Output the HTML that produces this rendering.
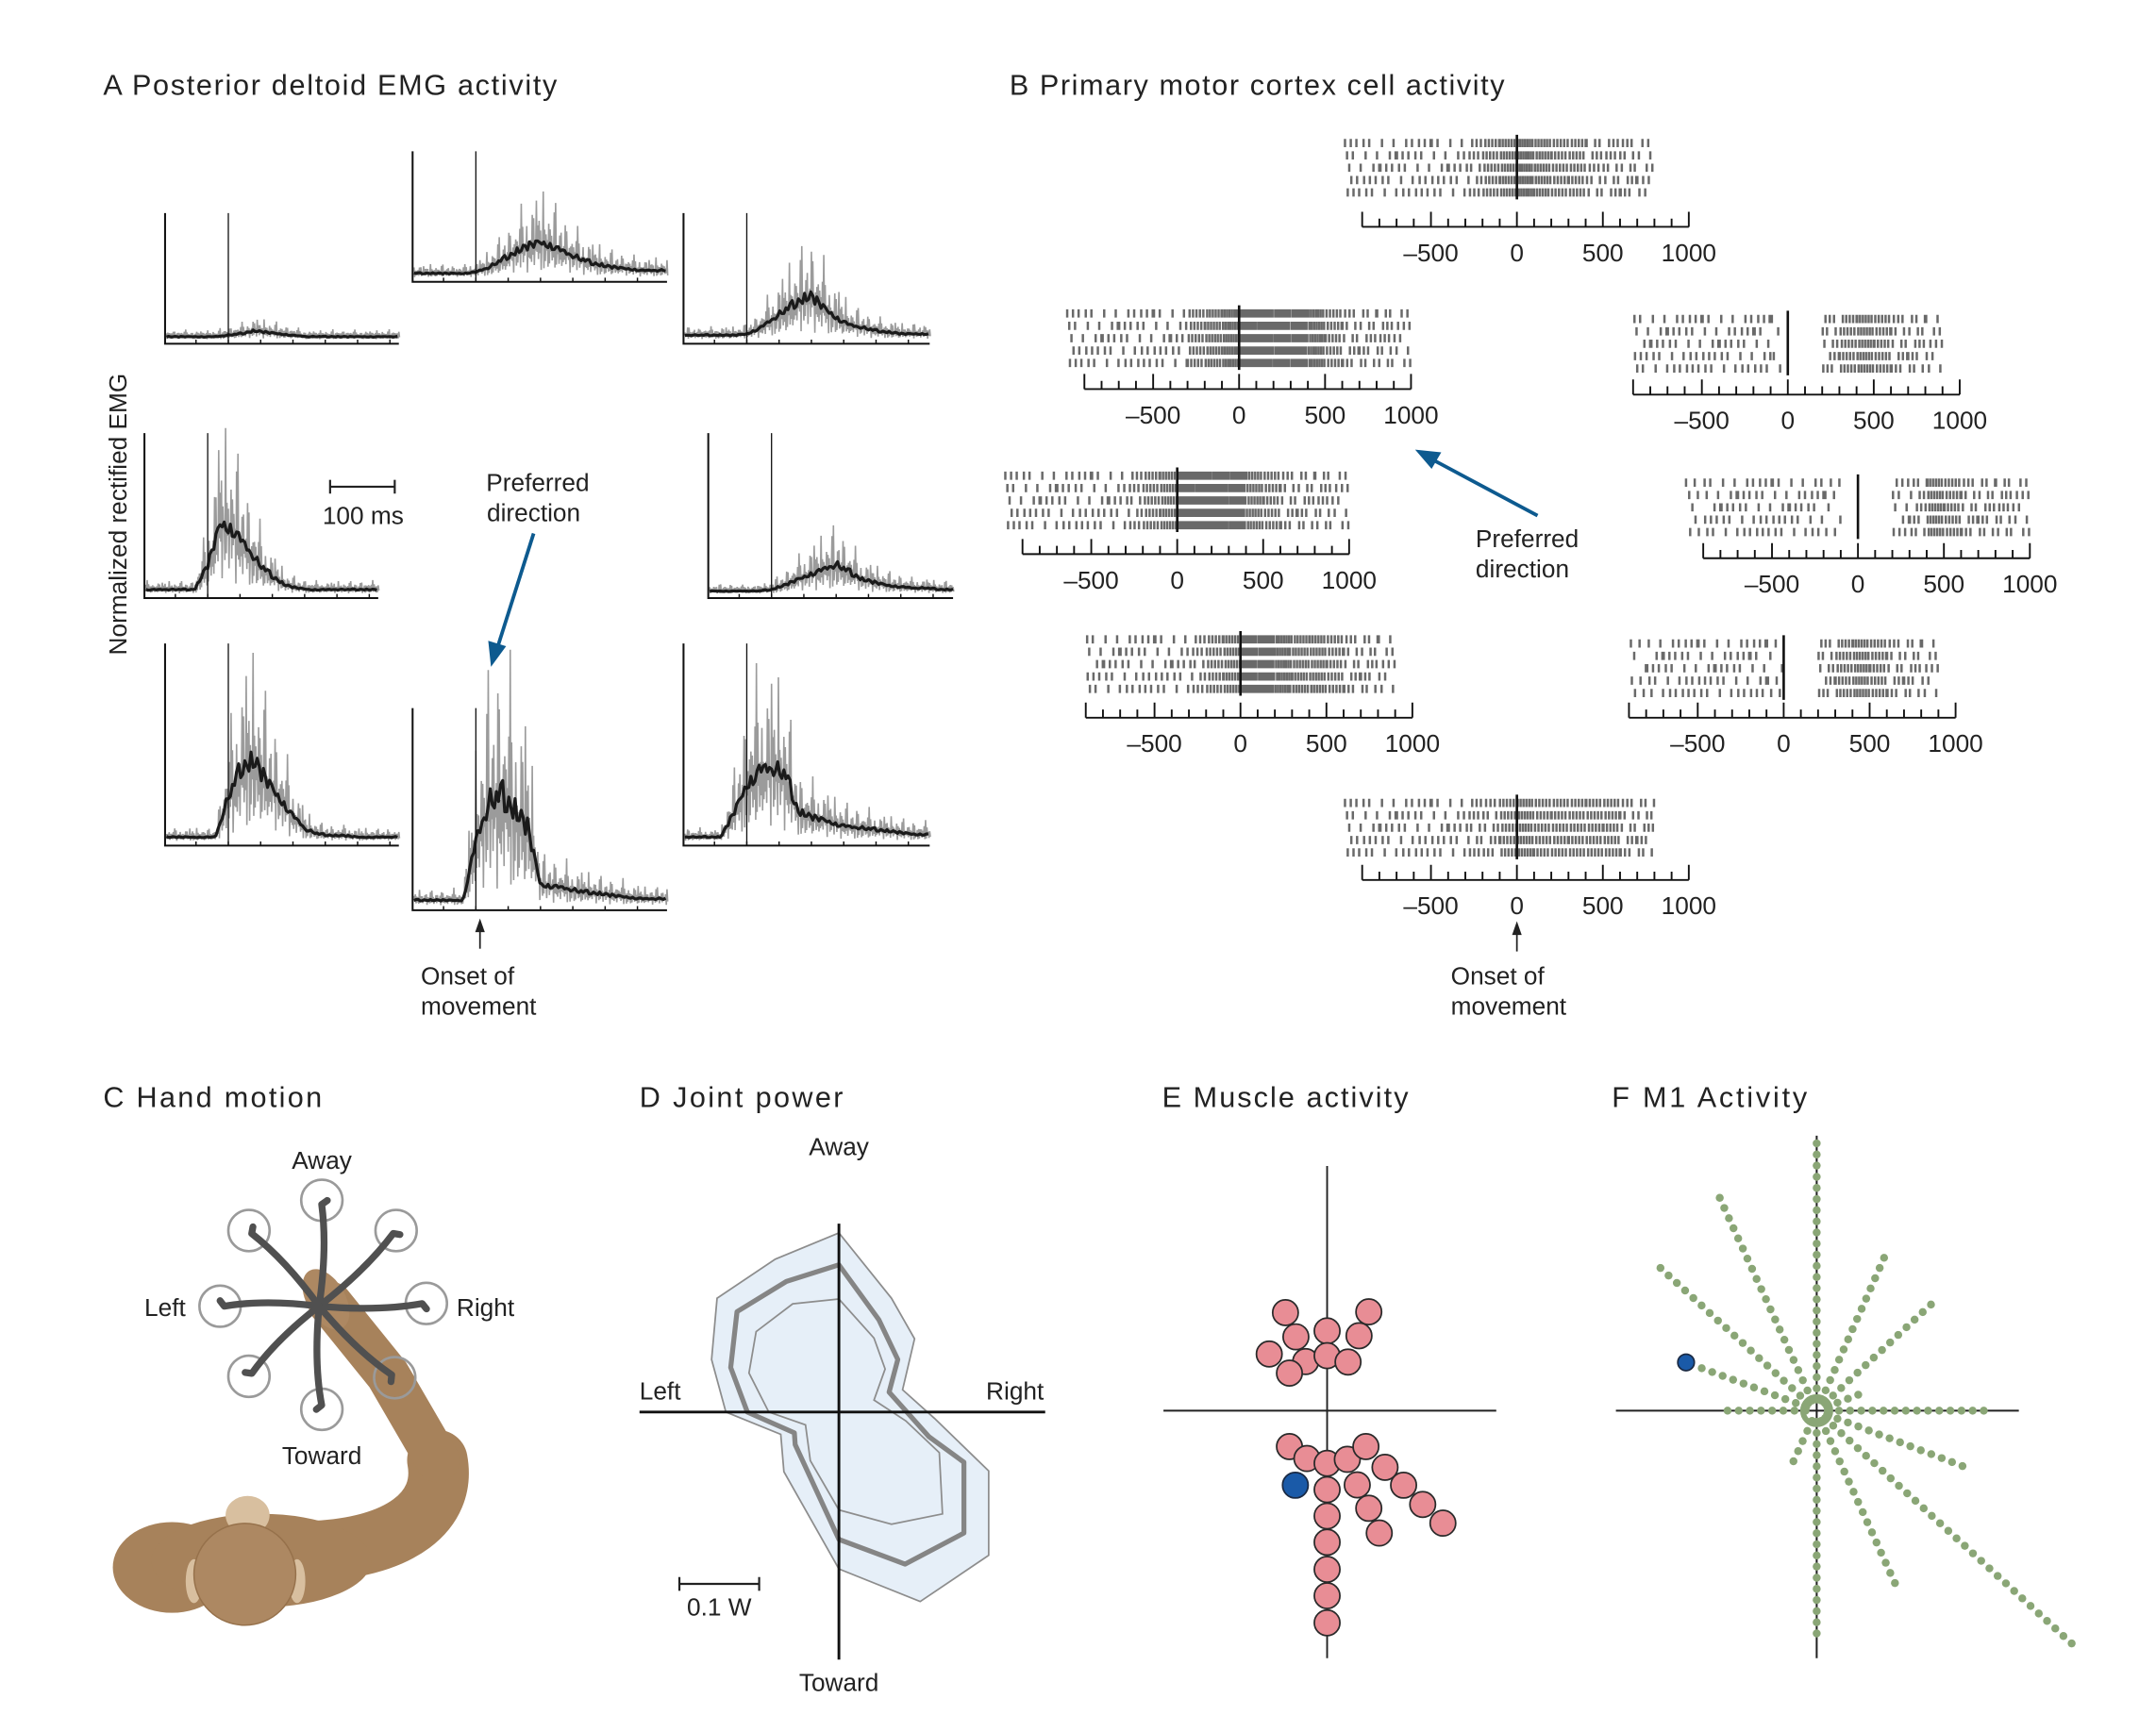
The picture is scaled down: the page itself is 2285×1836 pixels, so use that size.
<!DOCTYPE html>
<html><head><meta charset="utf-8"><title>Directional tuning figure</title>
<style>
html,body{margin:0;padding:0;background:#fff;}
svg{display:block;}
text{font-family:"Liberation Sans",sans-serif;fill:#222;}
</style></head>
<body>
<svg id="fig" xmlns="http://www.w3.org/2000/svg" width="2285" height="1836" viewBox="0 0 1567.7 1259.7">
<rect x="0" y="0" width="1568" height="1260" fill="#fff"/>
<!-- Titles -->
<text x="75" y="69" font-size="21" textLength="330">A  Posterior deltoid EMG activity</text>
<text x="734" y="69" font-size="21" textLength="360">B  Primary motor cortex cell activity</text>
<text x="75" y="805" font-size="21" textLength="159">C  Hand motion</text>
<text x="465" y="805" font-size="21" textLength="148">D  Joint power</text>
<text x="845" y="805" font-size="21" textLength="179">E  Muscle activity</text>
<text x="1172" y="805" font-size="21" textLength="142">F  M1 Activity</text>

<!-- Panel A annotations -->
<text transform="translate(92,374) rotate(-90)" text-anchor="middle" font-size="18">Normalized rectified EMG</text>
<g stroke="#222" stroke-width="1.5">
<line x1="240" y1="354" x2="287" y2="354"/><line x1="240" y1="349" x2="240" y2="359"/><line x1="287" y1="349" x2="287" y2="359"/></g>
<text x="264" y="381" text-anchor="middle" font-size="18">100 ms</text>
<text x="391" y="357" text-anchor="middle" font-size="18">Preferred</text>
<text x="388" y="379" text-anchor="middle" font-size="18">direction</text>
<g>
<line x1="388" y1="388" x2="362" y2="470" stroke="#0d5a8f" stroke-width="2.6"/>
<polygon points="357,485 355,466 368,470" fill="#0d5a8f"/></g>
<g>
<line x1="349" y1="690" x2="349" y2="676" stroke="#222" stroke-width="1.2"/><polygon points="349,668 345.5,678 352.5,678" fill="#222"/></g>
<text x="306" y="716" font-size="18">Onset of</text>
<text x="306" y="738" font-size="18">movement</text>

<!-- Panel B annotations -->
<text x="1073" y="398" font-size="18">Preferred</text>
<text x="1073" y="420" font-size="18">direction</text>
<g>
<line x1="1118" y1="375" x2="1043" y2="335" stroke="#0d5a8f" stroke-width="2.6"/>
<polygon points="1029,327 1048,329 1041,341" fill="#0d5a8f"/></g>
<g>
<line x1="1103" y1="692" x2="1103" y2="678" stroke="#222" stroke-width="1.2"/><polygon points="1103,670 1099.5,680 1106.5,680" fill="#222"/></g>
<text x="1055" y="716" font-size="18">Onset of</text>
<text x="1055" y="738" font-size="18">movement</text>

<g id="emg"></g>
<g id="raster"></g>

<!-- Panel C: monkey -->
<g>
<path d="M230 1128 C 290 1125, 325 1100, 318 1062" fill="none" stroke="#a7825b" stroke-width="44" stroke-linecap="round"/>
<path d="M318 1062 L 282 1000 L 240 948" fill="none" stroke="#a7825b" stroke-width="32" stroke-linecap="round"/>
<ellipse cx="237" cy="945" rx="14" ry="24" transform="rotate(-30 237 945)" fill="#ad8862"/>
<ellipse cx="125" cy="1140" rx="43" ry="33" fill="#a7825b"/>
<ellipse cx="190" cy="1135" rx="80" ry="34" fill="#a7825b"/>
<ellipse cx="180" cy="1102" rx="16" ry="14" fill="#d8bf9f"/>
<ellipse cx="141" cy="1150" rx="6" ry="16" fill="#d8bf9f"/>
<ellipse cx="216" cy="1150" rx="6" ry="16" fill="#d8bf9f"/>
<circle cx="178" cy="1145" r="37" fill="#ad8862" stroke="#96714b" stroke-width="1"/>
</g>
<g id="hand"></g>
<text x="234" y="850" text-anchor="middle" font-size="18">Away</text>
<text x="135" y="957" text-anchor="end" font-size="18">Left</text>
<text x="332" y="957" font-size="18">Right</text>
<text x="234" y="1065" text-anchor="middle" font-size="18">Toward</text>

<g id="power"></g>
<text x="610" y="840" text-anchor="middle" font-size="18">Away</text>
<text x="465" y="1018" font-size="18">Left</text>
<text x="759" y="1018" text-anchor="end" font-size="18">Right</text>
<text x="610" y="1230" text-anchor="middle" font-size="18">Toward</text>
<g stroke="#222" stroke-width="1.5">
<line x1="494" y1="1152" x2="552" y2="1152"/><line x1="494" y1="1147" x2="494" y2="1157"/><line x1="552" y1="1147" x2="552" y2="1157"/></g>
<text x="523" y="1175" text-anchor="middle" font-size="18">0.1 W</text>

<g id="muscle"></g>
<g id="m1"></g>
</svg>

<script>
// ---------- Panel A data: mean EMG envelopes (normalized units), t = -100..280 ms step 20 ----------
const emgTimes = [-100,-80,-60,-40,-20,0,20,40,60,80,100,120,140,160,180,200,220,240,260,280];
const emgUpLeft    = [.02,.02,.02,.02,.02,.03,.04,.06,.05,.04,.03,.02,.02,.02,.02,.02,.02,.02,.02,.02];
const emgUp        = [.03,.03,.03,.03,.03,.04,.07,.12,.17,.22,.25,.22,.17,.13,.10,.08,.07,.06,.05,.05];
const emgUpRight   = [.03,.03,.03,.03,.03,.04,.08,.14,.20,.26,.30,.22,.15,.10,.08,.06,.05,.04,.04,.04];
const emgLeft      = [.03,.03,.03,.03,.03,.20,.50,.45,.32,.20,.12,.06,.04,.03,.03,.03,.03,.03,.03,.03];
const emgRight     = [.02,.02,.02,.02,.02,.03,.06,.10,.14,.17,.20,.15,.10,.08,.06,.05,.04,.04,.03,.03];
const emgDownLeft  = [.03,.03,.03,.03,.03,.30,.50,.55,.42,.30,.18,.08,.05,.04,.04,.03,.03,.03,.03,.03];
const emgDown      = [.04,.04,.04,.04,.04,.45,.70,.75,.65,.55,.15,.14,.12,.10,.09,.08,.07,.06,.05,.05];
const emgDownRight = [.03,.03,.03,.03,.20,.40,.50,.50,.45,.20,.17,.15,.12,.10,.09,.08,.07,.06,.05,.05];
const emgNoise = [0.3,1.1,0.5,0.9,0.2,1.4,0.6,0.8,0.1,1.0,0.4,1.3,0.7,0.2,0.9,0.5,1.5,0.3,0.8,0.6,1.2,0.2,0.7,1.0,0.4,0.9,0.3,1.4,0.5,0.8,0.1,1.1,0.6,0.9,0.3,1.2,0.7,0.4,1.0,0.2,0.8];
const emgNames = ['up-left','up','up-right','left','right','down-left','down','down-right'];

// ---------- Panel B data: firing rate (spikes per 100 ms bin), bins from -1000 to +1000 ms ----------
const rasterUp        = [3,3,3,3,3,3,3,4,5,6,7,6,5,5,4,4,4,3,0,0];
const rasterUpLeft    = [3,3,3,3,3,3,3,5,6,7,9,9,8,8,7,5,4,4,4,3];
const rasterUpRight   = [0,3,3,3,3,3,3,3,3,1,0,0,4,5,6,5,4,4,3,0];
const rasterLeft      = [3,3,3,3,3,3,3,4,5,6,9,9,9,8,6,5,4,4,4,3];
const rasterRight     = [2,3,3,3,3,3,3,3,2,0,0,0,3,4,6,5,4,4,4,3];
const rasterDownLeft  = [0,3,3,3,3,3,3,4,5,6,8,8,7,6,6,5,4,4,3,0];
const rasterDownRight = [0,2,3,3,3,3,3,3,3,2,0,0,4,5,6,5,4,4,3,0];
const rasterDown      = [3,3,3,3,3,3,3,4,4,5,6,5,5,5,5,5,4,4,0,0];
const rasterTickLabels = [-500,0,500,1000];

// ---------- Panel D data: joint power polygons (units of 0.01 W; x right+, y toward+) ----------
const powerOuterX = [0,-8.0,-15.3,-16.0,-14.2,-7.3,-6.9,0,10.2,18.8,18.8,12.0,8.0,9.5,6.6];
const powerOuterY = [-22.5,-19.2,-14.3,-6.6,0,2.8,7.5,19.7,23.8,18.0,7.4,0.8,-2.8,-9.2,-14.3];
const powerMeanX  = [0,-6.6,-12.8,-13.6,-11.5,-5.6,-5.5,0,8.3,15.7,15.7,11.3,6.3,7.4,5.0];
const powerMeanY  = [-18.5,-16.4,-12.6,-5.6,0,2.6,4.1,16.0,19.1,15.2,6.3,3.1,-2.5,-6.6,-11.6];
const powerInnerX = [0,-5.8,-10.4,-11.3,-8.8,-4.2,-3.6,0,6.6,13.0,12.6,8.4,4.4,5.8,4.4];
const powerInnerY = [-14.2,-13.6,-10.1,-4.9,0,1.6,6.1,12.3,14.1,12.8,5.1,1.1,-1.5,-5.4,-9.3];

// ---------- Panel E data: muscle preferred directions (x right+, y toward+) ----------
const muscleX = [-3.03,3.03,-2.27,0,2.32,-4.21,-1.56,0,1.52,-2.74,-2.74,-1.47,0,1.47,2.82,4.21,2.19,5.56,0,3.03,6.95,8.42,3.79,0,0,0,0,0];
const muscleY = [-7.13,-7.19,-5.37,-5.8,-5.45,-4.12,-3.57,-4.0,-3.54,-2.73,2.61,3.48,3.83,3.54,2.61,4.12,5.40,5.42,5.74,7.10,6.82,8.18,8.90,7.66,9.57,11.54,13.46,15.43];
const muscleHighlightX = [-2.31];
const muscleHighlightY = [5.42];

// ---------- Panel F data: M1 population vectors (angle deg, number of cells) ----------
const m1Angles = [90,114.5,137.6,159.7,180,66.2,42.9,21,0,-20.8,-42.4,-65.6,-90,-114.7];
const m1Counts = [24,21,19,11,8,15,14,4,15,14,31,17,20,5];
const m1HighlightAngle = [159.7];
const m1HighlightCount = [12.5];

const NS = 'http://www.w3.org/2000/svg';
function mk(tag, attrs, parent){
  const e = document.createElementNS(NS, tag);
  for (const k in attrs) e.setAttribute(k, attrs[k]);
  parent.appendChild(e);
  return e;
}

// ================= Panel A =================
(function(){
  const g = document.getElementById('emg');
  const series = [emgUpLeft, emgUp, emgUpRight, emgLeft, emgRight, emgDownLeft, emgDown, emgDownRight];
  const layout = [
    {x0:120,base:250,top:155,w:170},{x0:300,base:205,top:110,w:185},{x0:497,base:250,top:155,w:179},
    {x0:105,base:435,top:315,w:170},{x0:515,base:435,top:315,w:178},
    {x0:120,base:615,top:468,w:170},{x0:300,base:662,top:515,w:185},{x0:497,base:615,top:468,w:179}];
  const pxPerMs = 0.47, unitPx = 100;
  function interp(arr, t){
    const i = (t - emgTimes[0]) / 20;
    if (i <= 0) return arr[0];
    if (i >= arr.length-1) return arr[arr.length-1];
    const f = Math.floor(i), r = i - f;
    return arr[f]*(1-r) + arr[f+1]*r;
  }
  series.forEach((arr, k) => {
    const L = layout[k];
    const onX = L.x0 + 46;
    const sub = mk('g', {}, g);
    
    
    const xs = t => onX + t*pxPerMs;
    const ys = v => L.base - 3 - v*unitPx;
    let d = '';
    for (let x = L.x0 + 1, i = 0; x <= L.x0 + L.w; x += 1, i++) {
      const t = (x - onX)/pxPerMs;
      const m = interp(arr, t);
      const n = emgNoise[(i*7 + k*3) % emgNoise.length];
      const n2 = emgNoise[(i*3 + k*5 + 11) % emgNoise.length];
      const top = m*(1 + 0.75*n*n) + 0.012 + 0.01*n2;
      const bot = Math.max(0, m*(1 - 0.55*n2));
      d += (i===0 ? 'M' : 'L') + x.toFixed(1) + ' ' + ys(top).toFixed(1) + 'L' + (x+0.5).toFixed(1) + ' ' + ys(bot).toFixed(1);
    }
    const band = mk('path', {d:d, fill:'none', stroke:'#9b9b9b', 'stroke-width':'1.1'}, sub);
    
    
    let dm = '';
    for (let x = L.x0 + 1, i = 0; x <= L.x0 + L.w; x += 1.5, i++) {
      const t = (x - onX)/pxPerMs;
      const m = interp(arr, t);
      const n = emgNoise[(i*5 + k) % emgNoise.length];
      const v = m*(0.9 + 0.22*n);
      dm += (i===0 ? 'M' : 'L') + x.toFixed(1) + ' ' + ys(v).toFixed(1);
    }
    const mean = mk('path', {d:dm, fill:'none', stroke:'#1a1a1a', 'stroke-width':'2.2', 'stroke-linejoin':'round'}, sub);
    
    
    const ax = mk('path', {d:'M'+L.x0+' '+L.top+'V'+L.base+'H'+(L.x0+L.w), fill:'none', stroke:'#111', 'stroke-width':'1.4'}, sub);
    
    
    const on = mk('line', {x1:onX, y1:L.top, x2:onX, y2:L.base, stroke:'#111', 'stroke-width':'0.9'}, sub);
    
    
    let td = '';
    for (let t = -50; xs(t) <= L.x0 + L.w; t += 50) { if (xs(t) >= L.x0) td += 'M'+xs(t).toFixed(1)+' '+L.base+'v-3'; }
    const ticks = mk('path', {d:td, stroke:'#111', 'stroke-width':'1'}, sub);
    
    
  });
})();

// ================= Panel B =================
(function(){
  const g = document.getElementById('raster');
  const series = [rasterUp, rasterUpLeft, rasterUpRight, rasterLeft, rasterRight, rasterDownLeft, rasterDownRight, rasterDown];
  const names = ['up','up-left','up-right','left','right','down-left','down-right','down'];
  const layout = [
    {zero:1103,rowTop:101,axisY:165},{zero:901,rowTop:225,axisY:283},{zero:1300,rowTop:229,axisY:287},
    {zero:856,rowTop:343,axisY:403},{zero:1351,rowTop:348,axisY:406},
    {zero:902,rowTop:462,axisY:522},{zero:1297,rowTop:465,axisY:522},{zero:1103,rowTop:581,axisY:640}];
  const pxPerMs = 0.125;
  series.forEach((rates, k) => {
    const L = layout[k];
    const xs = t => L.zero + t*pxPerMs;
    const sub = mk('g', {}, g);
    
    
    let d = '';
    for (let r = 0; r < 5; r++) {
      const y = L.rowTop + r*9;
      rates.forEach((n, b) => {
        if (!n) return;
        const b0 = -1000 + b*100;
        const step = 100/n;
        const off = ((r*0.37 + b*0.23) % 1) * step;
        for (let j = 0; j < n; j++) {
          if (n <= 4 && ((j + r + b) % 4 === 3)) continue;
          const t = b0 + off + j*step;
          d += 'M' + xs(t).toFixed(1) + ' ' + y + 'v6';
        }
      });
    }
    const sp = mk('path', {d:d, stroke:'#2a2a2a', 'stroke-width':'1.7', 'stroke-opacity':'0.7'}, sub);
    
    
    const al = mk('line', {x1:xs(0), y1:L.rowTop-3, x2:xs(0), y2:L.rowTop+44, stroke:'#111', 'stroke-width':'1.8'}, sub);
    
    
    let ad = 'M'+xs(-900)+' '+L.axisY+'H'+xs(1000);
    for (let t = -900; t <= 1000; t += 100) {
      const major = (t % 500 === 0) || t === -900;
      ad += 'M'+xs(t).toFixed(1)+' '+L.axisY+'v'+(major ? -11 : -6);
    }
    const axis = mk('path', {d:ad, fill:'none', stroke:'#111', 'stroke-width':'1.3'}, sub);
    
    
    rasterTickLabels.forEach(v => {
      const tx = mk('text', {x:xs(v), y:L.axisY+25, 'text-anchor':'middle', 'font-size':'18'}, sub);
      
      
      tx.textContent = v < 0 ? '\u2013' + Math.abs(v) : String(v);
    });
  });
})();

// ================= Panel C =================
(function(){
  const g = document.getElementById('hand');
  const cx = 232, cy = 950;
  const targets = [[234,873],[288,895],[310,948],[287,1002],[234,1025],[181,1001],[160,950],[181,895]];
  const tnames = ['away','away-right','right','toward-right','toward','toward-left','left','away-left'];
  targets.forEach((p, i) => {
    const c = mk('circle', {cx:p[0], cy:p[1], r:15, fill:'none', stroke:'#9a9a9a', 'stroke-width':'1.8'}, g);
    
    
  });
  targets.forEach((p, i) => {
    const dx = p[0]-cx, dy = p[1]-cy;
    const len = Math.hypot(dx, dy);
    const ux = dx/len, uy = dy/len;
    const mx = cx + dx*0.55 - uy*5, my = cy + dy*0.55 + ux*5;
    const ex = p[0] - ux*3, ey = p[1] - uy*3;
    const hx = ex + (-uy)*4 + ux*3, hy = ey + ux*4 + uy*3;
    const path = mk('path', {d:'M'+cx+' '+cy+'Q'+mx.toFixed(1)+' '+my.toFixed(1)+' '+ex.toFixed(1)+' '+ey.toFixed(1)+'L'+hx.toFixed(1)+' '+hy.toFixed(1), fill:'none', stroke:'#505050', 'stroke-width':'5', 'stroke-linecap':'round', 'stroke-linejoin':'round'}, g);
    
    
  });
})();

// ================= Panel D =================
(function(){
  const g = document.getElementById('power');
  const ox = 610, oy = 1027, s = 5.79;
  const pts = (X, Y) => X.map((v,i) => (ox + v*s).toFixed(1) + ',' + (oy + Y[i]*s).toFixed(1)).join(' ');
  const outer = mk('polygon', {points:pts(powerOuterX, powerOuterY), fill:'#e6eff8', stroke:'#8d8d8d', 'stroke-width':'1.2'}, g);
  
  
  const inner = mk('polygon', {points:pts(powerInnerX, powerInnerY), fill:'none', stroke:'#8d8d8d', 'stroke-width':'1.2'}, g);
  
  
  const mean = mk('polygon', {points:pts(powerMeanX, powerMeanY), fill:'none', stroke:'#858585', 'stroke-width':'3.6', 'stroke-linejoin':'round'}, g);
  
  
  const ax = mk('path', {d:'M610 890V1207M465 1027H760', stroke:'#111', 'stroke-width':'2'}, g);
  
  
})();

// ================= Panel E =================
(function(){
  const g = document.getElementById('muscle');
  const ox = 965, oy = 1026, s = 10;
  const ax = mk('path', {d:'M965 848V1206M846 1026H1088', stroke:'#222', 'stroke-width':'1.3'}, g);
  
  
  muscleX.forEach((v, i) => {
    const c = mk('circle', {cx:(ox + v*s).toFixed(1), cy:(oy + muscleY[i]*s).toFixed(1), r:9.3, fill:'#e88d95', stroke:'#2a2a2a', 'stroke-width':'1.2'}, g);
    
    
  });
  muscleHighlightX.forEach((v, i) => {
    const c = mk('circle', {cx:(ox + v*s).toFixed(1), cy:(oy + muscleHighlightY[i]*s).toFixed(1), r:9.3, fill:'#1a5aa8', stroke:'#1a2a44', 'stroke-width':'1.2'}, g);
    
    
  });
})();

// ================= Panel F =================
(function(){
  const g = document.getElementById('m1');
  const ox = 1321, oy = 1026, sp = 8.1;
  const ax = mk('path', {d:'M1321 826V1206M1175 1026H1468', stroke:'#222', 'stroke-width':'1.4'}, g);
  
  
  m1Angles.forEach((a, i) => {
    const rad = a*Math.PI/180;
    const ray = mk('g', {fill:'#8aa676'}, g);
    
    
    for (let k = 1; k <= m1Counts[i]; k++) {
      mk('circle', {cx:(ox + Math.cos(rad)*k*sp).toFixed(1), cy:(oy - Math.sin(rad)*k*sp).toFixed(1), r:2.9}, ray);
    }
  });
  const ring = mk('circle', {cx:ox, cy:oy, r:10, fill:'none', stroke:'#8aa676', 'stroke-width':'4'}, g);
  
  
  m1HighlightAngle.forEach((a, i) => {
    const rad = a*Math.PI/180;
    const c = mk('circle', {cx:(ox + Math.cos(rad)*m1HighlightCount[i]*sp).toFixed(1), cy:(oy - Math.sin(rad)*m1HighlightCount[i]*sp).toFixed(1), r:6, fill:'#1a5aa8', stroke:'#1a2a44', 'stroke-width':'1.2'}, g);
    
    
  });
})();
</script>
</body></html>
